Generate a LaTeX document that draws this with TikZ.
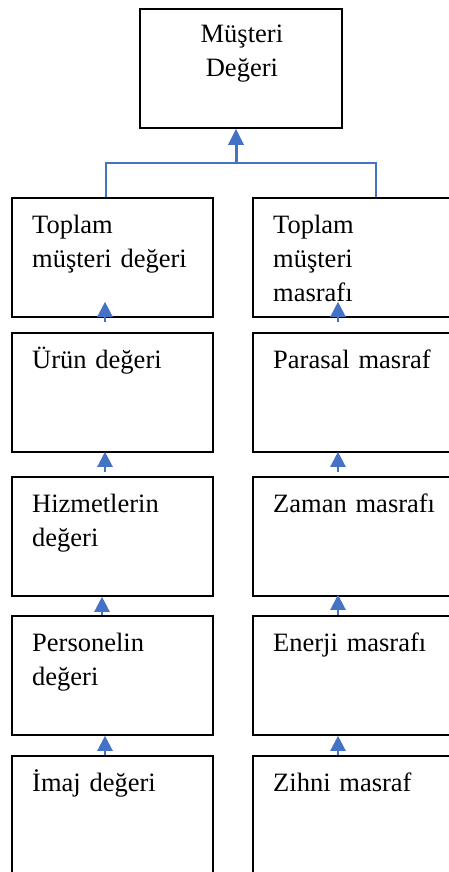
\documentclass[tikz,border=0pt]{standalone}
\usepackage{fontspec}
\setmainfont{Liberation Serif}
\usetikzlibrary{arrows.meta,calc}
\definecolor{arrblue}{HTML}{4472C4}
\tikzset{
  box/.style={draw=black, line width=1.8pt, fill=white, minimum width=201pt, minimum height=119pt, anchor=north west, inner sep=0pt},
  topbox/.style={draw=black, line width=1.8pt, fill=white, minimum width=202pt, minimum height=119pt, anchor=north west, inner sep=0pt},
  txt/.style={inner sep=0pt, anchor=base west, text width=190pt, align=left, font=\fontsize{26.5}{34}\selectfont},
  ctxt/.style={inner sep=0pt, anchor=base, text width=190pt, align=center, font=\fontsize{26.5}{34}\selectfont},
  arr/.style={draw=arrblue, line width=2.3pt, -{Triangle[width=15pt,length=15pt]}},
  bigarr/.style={draw=arrblue, line width=3pt, -{Triangle[width=15pt,length=16pt]}},
  link/.style={draw=arrblue, line width=1.3pt}
}
\begin{document}
\begin{tikzpicture}[x=1pt,y=-1pt]
\useasboundingbox (0,0) rectangle (448,872);
% top box
\node[topbox] (b0) at (139,8) {};
\node[ctxt] (t0) at ($(b0.north)+(1,35)$) {Müşteri\\Değeri};
% left column
\node[box] (l1) at (11,197) {};
\node[box] (l2) at (11,332) {};
\node[box] (l3) at (11,476) {};
\node[box] (l4) at (11,615) {};
\node[box, minimum height=122pt] (l5) at (11,755) {};
% right column
\node[box] (r1) at (252,197) {};
\node[box] (r2) at (252,332) {};
\node[box] (r3) at (252,476) {};
\node[box] (r4) at (252,615) {};
\node[box, minimum height=122pt] (r5) at (252,755) {};
% texts
\node[txt] (tl1) at ($(l1.north west)+(21,36)$) {Toplam\\müşteri değeri};
\node[txt] (tl2) at ($(l2.north west)+(21,36)$) {Ürün değeri};
\node[txt] (tl3) at ($(l3.north west)+(21,36)$) {Hizmetlerin\\değeri};
\node[txt] (tl4) at ($(l4.north west)+(21,36)$) {Personelin\\değeri};
\node[txt] (tl5) at ($(l5.north west)+(21,36)$) {İmaj değeri};
\node[txt] (tr1) at ($(r1.north west)+(21,36)$) {Toplam\\müşteri\\masrafı};
\node[txt] (tr2) at ($(r2.north west)+(21,36)$) {Parasal masraf};
\node[txt] (tr3) at ($(r3.north west)+(21,36)$) {Zaman masrafı};
\node[txt] (tr4) at ($(r4.north west)+(21,36)$) {Enerji masrafı};
\node[txt] (tr5) at ($(r5.north west)+(21,36)$) {Zihni masraf};
% top connector
\coordinate (jl) at ($(l1.north west)+(95,-34)$);
\coordinate (jr) at ($(r1.north west)+(124,-34)$);
\coordinate (jm) at (236,163);
\draw[link] ($(l1.north west)+(95,0)$) -- (jl) -- (jr) -- ($(r1.north west)+(124,0)$);
\draw[bigarr] (jm) -- (b0.south -| jm);
% column arrows left
\draw[arr] ($(l2.north west)+(94,-10)$) -- ($(l1.south west)+(94,-16)$);
\draw[arr] ($(l3.north west)+(94,-4)$) -- ($(l2.south west)+(94,-1)$);
\draw[arr] ($(l4.north west)+(91,0)$) -- ($(l3.south west)+(91,0)$);
\draw[arr] ($(l5.north west)+(94,0)$) -- ($(l4.south west)+(94,0)$);
% column arrows right
\draw[arr] ($(r2.north west)+(86,-10)$) -- ($(r1.south west)+(86,-16)$);
\draw[arr] ($(r3.north west)+(86,-4)$) -- ($(r2.south west)+(86,-1)$);
\draw[arr] ($(r4.north west)+(86,0)$) -- ($(r3.south west)+(86,-2)$);
\draw[arr] ($(r5.north west)+(86,0)$) -- ($(r4.south west)+(86,0)$);
\end{tikzpicture}
\end{document}
